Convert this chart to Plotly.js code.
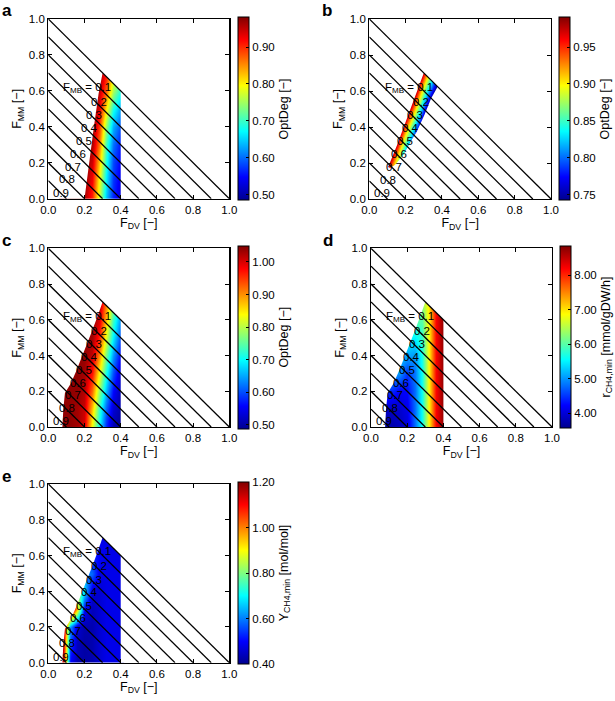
<!DOCTYPE html>
<html>
<head>
<meta charset="utf-8">
<script src="https://cdn.plot.ly/plotly-3.0.1.min.js"></script>
<style>html,body{margin:0;padding:0;background:#fff;}#plot{width:615px;height:701px;}</style>
</head>
<body>
<div id="plot"></div>
<script>
// ---------------- data ----------------
const gridDV = [0.08, 0.12, 0.16, 0.20, 0.24, 0.28, 0.32, 0.36, 0.40];
const gridMM = [0.0, 0.1, 0.2, 0.3, 0.4, 0.5, 0.6, 0.7];

// (a) OptDeg [-]
const optDegA = [
  [0.98,0.98,0.98,0.96,0.90,0.77,0.64,0.56,0.52],
  [0.98,0.98,0.98,0.97,0.92,0.79,0.66,0.57,0.53],
  [0.98,0.98,0.98,0.98,0.94,0.82,0.68,0.58,0.54],
  [0.98,0.98,0.98,0.98,0.96,0.86,0.70,0.60,0.55],
  [0.98,0.98,0.98,0.98,0.97,0.89,0.74,0.63,0.58],
  [0.98,0.98,0.98,0.98,0.98,0.93,0.80,0.68,0.62],
  [0.98,0.98,0.98,0.98,0.98,0.95,0.87,0.75,0.68],
  [0.98,0.98,0.98,0.98,0.98,0.97,0.91,0.79,0.72]
];
// (b) OptDeg [-]
const optDegB = [
  [0.87,0.78,0.68,0.59,0.50,0.40,0.31,0.21,0.12],
  [0.96,0.87,0.77,0.68,0.58,0.49,0.39,0.30,0.21],
  [1.05,0.95,0.86,0.76,0.67,0.58,0.48,0.39,0.29],
  [1.13,1.04,0.95,0.85,0.76,0.66,0.57,0.48,0.38],
  [1.22,1.13,1.03,0.94,0.84,0.75,0.66,0.56,0.47],
  [1.31,1.21,1.12,1.03,0.93,0.84,0.74,0.65,0.56],
  [1.39,1.30,1.21,1.11,1.02,0.92,0.83,0.74,0.64],
  [1.48,1.39,1.29,1.20,1.11,1.01,0.92,0.82,0.73]
];
// (c) OptDeg [-]
const optDegC = [
  [1.04,1.04,1.03,1.00,0.83,0.70,0.58,0.51,0.49],
  [1.04,1.04,1.03,1.01,0.87,0.73,0.61,0.53,0.50],
  [1.04,1.04,1.04,1.02,0.92,0.78,0.66,0.56,0.51],
  [1.04,1.04,1.04,1.03,0.97,0.84,0.71,0.60,0.52],
  [1.04,1.04,1.04,1.04,1.01,0.90,0.76,0.64,0.55],
  [1.04,1.04,1.04,1.04,1.03,0.96,0.82,0.69,0.59],
  [1.04,1.04,1.04,1.04,1.04,1.00,0.87,0.73,0.63],
  [1.04,1.04,1.04,1.04,1.04,1.03,0.91,0.77,0.67]
];
// (d) r_CH4,min [mmol/gDW/h]
const rCH4minD = [
  [3.70,3.75,3.85,4.00,4.80,5.60,6.90,8.20,8.80],
  [3.90,3.90,3.95,4.10,4.80,5.60,6.90,8.20,8.80],
  [4.60,4.40,4.20,4.25,4.80,5.60,6.90,8.20,8.80],
  [5.20,5.10,5.00,4.50,4.85,5.60,6.90,8.20,8.80],
  [5.40,5.30,5.20,5.10,5.00,5.65,6.90,8.20,8.80],
  [5.60,5.60,5.50,5.50,5.50,5.80,6.90,8.20,8.80],
  [6.00,6.00,6.00,6.00,6.00,6.00,6.95,8.20,8.80],
  [6.30,6.30,6.30,6.30,6.30,6.30,7.00,8.20,8.80]
];
// (e) Y_CH4,min [mol/mol]
const yCH4minE = [
  [1.15,0.50,0.43,0.42,0.43,0.46,0.48,0.48,0.48],
  [1.15,0.55,0.44,0.42,0.43,0.46,0.48,0.48,0.48],
  [1.20,0.62,0.46,0.43,0.43,0.46,0.48,0.48,0.48],
  [1.30,1.30,0.95,0.50,0.44,0.46,0.48,0.48,0.48],
  [1.00,0.90,0.80,0.68,0.46,0.46,0.48,0.48,0.48],
  [0.70,0.70,0.65,0.62,0.58,0.48,0.48,0.48,0.48],
  [0.55,0.55,0.55,0.55,0.52,0.50,0.48,0.48,0.48],
  [0.50,0.50,0.50,0.50,0.50,0.48,0.48,0.48,0.48]
];

// feasible-region outlines (F_DV, F_MM)
const regionA_DV = [0.200, 0.227, 0.252, 0.278, 0.300, 0.400, 0.400];
const regionA_MM = [0.000, 0.215, 0.400, 0.585, 0.700, 0.600, 0.000];
const regionCDE_DV = [0.078, 0.083, 0.092, 0.125, 0.155, 0.185, 0.215, 0.245, 0.272, 0.300, 0.400, 0.400];
const regionCDE_MM = [0.000, 0.100, 0.190, 0.245, 0.315, 0.390, 0.465, 0.545, 0.620, 0.700, 0.600, 0.000];
const bandB_leftDV  = [0.103, 0.109, 0.153, 0.190, 0.227, 0.264, 0.300];
const bandB_leftMM  = [0.178, 0.190, 0.300, 0.400, 0.500, 0.600, 0.700];
const bandB_rightDV = [0.376, 0.340, 0.303, 0.261, 0.233, 0.187, 0.141, 0.115];
const bandB_rightMM = [0.624, 0.559, 0.467, 0.374, 0.328, 0.244, 0.189, 0.172];

// iso-lines of F_MB
const fmbLevels = [0.0, 0.1, 0.2, 0.3, 0.4, 0.5, 0.6, 0.7, 0.8, 0.9];
const fmbLabelText = ['0.1','0.2','0.3','0.4','0.5','0.6','0.7','0.8','0.9'];
const fmbLabelDV = [0.360, 0.282, 0.254, 0.225, 0.197, 0.166, 0.135, 0.105, 0.070];
const fmbLabelMM = [0.617, 0.539, 0.465, 0.394, 0.320, 0.248, 0.178, 0.108, 0.033];

const axisTicks = [0, 0.2, 0.4, 0.6, 0.8, 1.0];
const cbTicksA = [0.5, 0.6, 0.7, 0.8, 0.9];
const cbTicksB = [0.75, 0.80, 0.85, 0.90, 0.95];
const cbTicksC = [0.5, 0.6, 0.7, 0.8, 0.9, 1.0];
const cbTicksD = [4, 5, 6, 7, 8];
const cbTicksE = [0.4, 0.6, 0.8, 1.0, 1.2];
const cbRangeA = [0.484, 0.98];
const cbRangeB = [0.742, 0.99];
const cbRangeC = [0.488, 1.05];
const cbRangeD = [3.57, 8.84];
const cbRangeE = [0.40, 1.20];
const cbTitles = ['OptDeg [−]', 'OptDeg [−]', 'OptDeg [−]',
  'r<sub>CH4,min</sub> [mmol/gDW/h]', 'Y<sub>CH4,min</sub> [mol/mol]'];
const panelLetters = ['a','b','c','d','e'];

// ---------------- layout geometry (pixels of the 615x701 page) ----------------
const W = 615, H = 701;
const FONT = 'Liberation Sans, Arial, sans-serif';
const jet = [[0,'rgb(0,0,143)'],[0.125,'rgb(0,0,255)'],[0.375,'rgb(0,255,255)'],
             [0.625,'rgb(255,255,0)'],[0.875,'rgb(255,0,0)'],[1,'rgb(128,0,0)']];

const panels = [
  {z: optDegA,  range: cbRangeA, ticks: cbTicksA, fmt: '.2f', box: [48.3, 229.3, 19, 198.7], cb: [237.7, 17.5, 200], letter: [0, 11]},
  {z: optDegB,  range: cbRangeB, ticks: cbTicksB, fmt: '.2f', box: [369.3, 551, 19, 199], cb: [559, 17.5, 200], letter: [320, 11]},
  {z: optDegC,  range: cbRangeC, ticks: cbTicksC, fmt: '.2f', box: [48.3, 229.3, 248.3, 427], cb: [237.7, 245.7, 428.3], letter: [0, 240]},
  {z: rCH4minD, range: cbRangeD, ticks: cbTicksD, fmt: '.2f', box: [371, 552, 248.3, 427], cb: [560.3, 246, 428.3], letter: [321, 240.5]},
  {z: yCH4minE, range: cbRangeE, ticks: cbTicksE, fmt: '.2f', box: [48.3, 229.3, 484, 662.7], cb: [237.7, 482, 664], letter: [0, 476.5]}
];

const data = [];
const layout = {
  width: W, height: H,
  margin: {l: 0, r: 0, t: 0, b: 0},
  paper_bgcolor: '#fff', plot_bgcolor: '#fff',
  showlegend: false,
  font: {family: FONT, size: 11.5, color: '#000'},
  annotations: []
};

function maskBottomNotch(dv, mm) {
  const n = dv.length;
  const x = [-0.05, dv[0]].concat(dv, [dv[n-1], 1.05, 1.05, -0.05]);
  const y = [-0.05, -0.05].concat(mm, [-0.05, -0.05, 1.05, 1.05]);
  return [{x, y}];
}
function maskBand(lDV, lMM, rDV, rMM) {
  const p1x = [-0.05, lDV[0]].concat(lDV, [1.05, 1.05, -0.05]);
  const p1y = [-0.05, -0.05].concat(lMM, [-0.05, 1.05, 1.05]);
  const rdvRev = rDV.slice().reverse(), rmmRev = rMM.slice().reverse();
  const p2x = [lDV[0]].concat(rdvRev, [1.05, 1.05, lDV[0]-0.02, lDV[0]-0.02]);
  const p2y = [lMM[0]].concat(rmmRev, [1.05, -0.05, -0.05, lMM[0]-0.01]);
  return [{x: p1x, y: p1y}, {x: p2x, y: p2y}];
}

panels.forEach((p, i) => {
  const s = i === 0 ? '' : String(i + 1);
  const xa = 'x' + s, ya = 'y' + s;
  const [x0, x1, yTop, yBot] = p.box;
  const axCommon = {
    range: [0, 1], tickvals: axisTicks, tickformat: '.1f',
    ticks: 'inside', ticklen: 4, tickwidth: 1, tickcolor: '#000',
    showline: true, linecolor: '#000', linewidth: 1.2, mirror: 'ticks',
    showgrid: false, zeroline: false, fixedrange: true,
    tickfont: {family: FONT, size: 11.5, color: '#000'}
  };
  layout['xaxis' + s] = Object.assign({}, axCommon, {
    domain: [x0 / W, x1 / W], anchor: ya,
    title: {text: 'F<sub>DV</sub> [−]', font: {family: FONT, size: 12.5}, standoff: 2}
  });
  layout['yaxis' + s] = Object.assign({}, axCommon, {
    domain: [1 - yBot / H, 1 - yTop / H], anchor: xa,
    title: {text: 'F<sub>MM</sub> [−]', font: {family: FONT, size: 12.5}, standoff: 4}
  });

  data.push({
    type: 'heatmap', x: gridDV, y: gridMM, z: p.z, xaxis: xa, yaxis: ya,
    zmin: p.range[0], zmax: p.range[1], zsmooth: 'best', colorscale: jet,
    hoverinfo: 'skip',
    colorbar: {
      x: p.cb[0] / W, xanchor: 'left', xpad: 0, ypad: 0,
      y: 1 - p.cb[1] / H, yanchor: 'top', lenmode: 'fraction', len: (p.cb[2] - p.cb[1]) / H,
      thickness: 11, thicknessmode: 'pixels',
      outlinewidth: 1, outlinecolor: '#000',
      ticks: 'inside', ticklen: 3, tickcolor: '#000',
      tickvals: p.ticks, tickformat: p.fmt,
      tickfont: {family: FONT, size: 11.5, color: '#000'},
      title: {text: cbTitles[i], side: 'right', font: {family: FONT, size: 12.5, color: '#000'}}
    }
  });

  const masks = (i === 0) ? maskBottomNotch(regionA_DV, regionA_MM)
              : (i === 1) ? maskBand(bandB_leftDV, bandB_leftMM, bandB_rightDV, bandB_rightMM)
              : maskBottomNotch(regionCDE_DV, regionCDE_MM);
  masks.forEach(m => data.push({
    type: 'scatter', mode: 'lines', x: m.x, y: m.y, xaxis: xa, yaxis: ya,
    fill: 'toself', fillcolor: '#ffffff', line: {width: 0, color: 'rgba(0,0,0,0)'},
    hoverinfo: 'skip'
  }));

  const lx = [], ly = [];
  fmbLevels.forEach(f => { lx.push(0, 1 - f, null); ly.push(1 - f, 0, null); });
  data.push({
    type: 'scatter', mode: 'lines', x: lx, y: ly, xaxis: xa, yaxis: ya,
    line: {color: '#000', width: 1.3}, connectgaps: false, hoverinfo: 'skip'
  });

  fmbLabelText.forEach((t, k) => {
    layout.annotations.push({
      xref: xa, yref: ya, x: fmbLabelDV[k], y: fmbLabelMM[k],
      text: k === 0 ? 'F<sub>MB</sub> = ' + t : t,
      xanchor: k === 0 ? 'right' : 'center', yanchor: 'middle',
      showarrow: false, font: {family: FONT, size: 11.5, color: '#000'}
    });
  });

  layout.annotations.push({
    xref: 'paper', yref: 'paper', x: p.letter[0] / W, y: 1 - p.letter[1] / H,
    xanchor: 'left', yanchor: 'middle', text: '<b>' + panelLetters[i] + '</b>',
    showarrow: false, font: {family: FONT, size: 17, color: '#000'}
  });
});

Plotly.newPlot('plot', data, layout, {staticPlot: true, displayModeBar: false});
</script>
</body>
</html>
